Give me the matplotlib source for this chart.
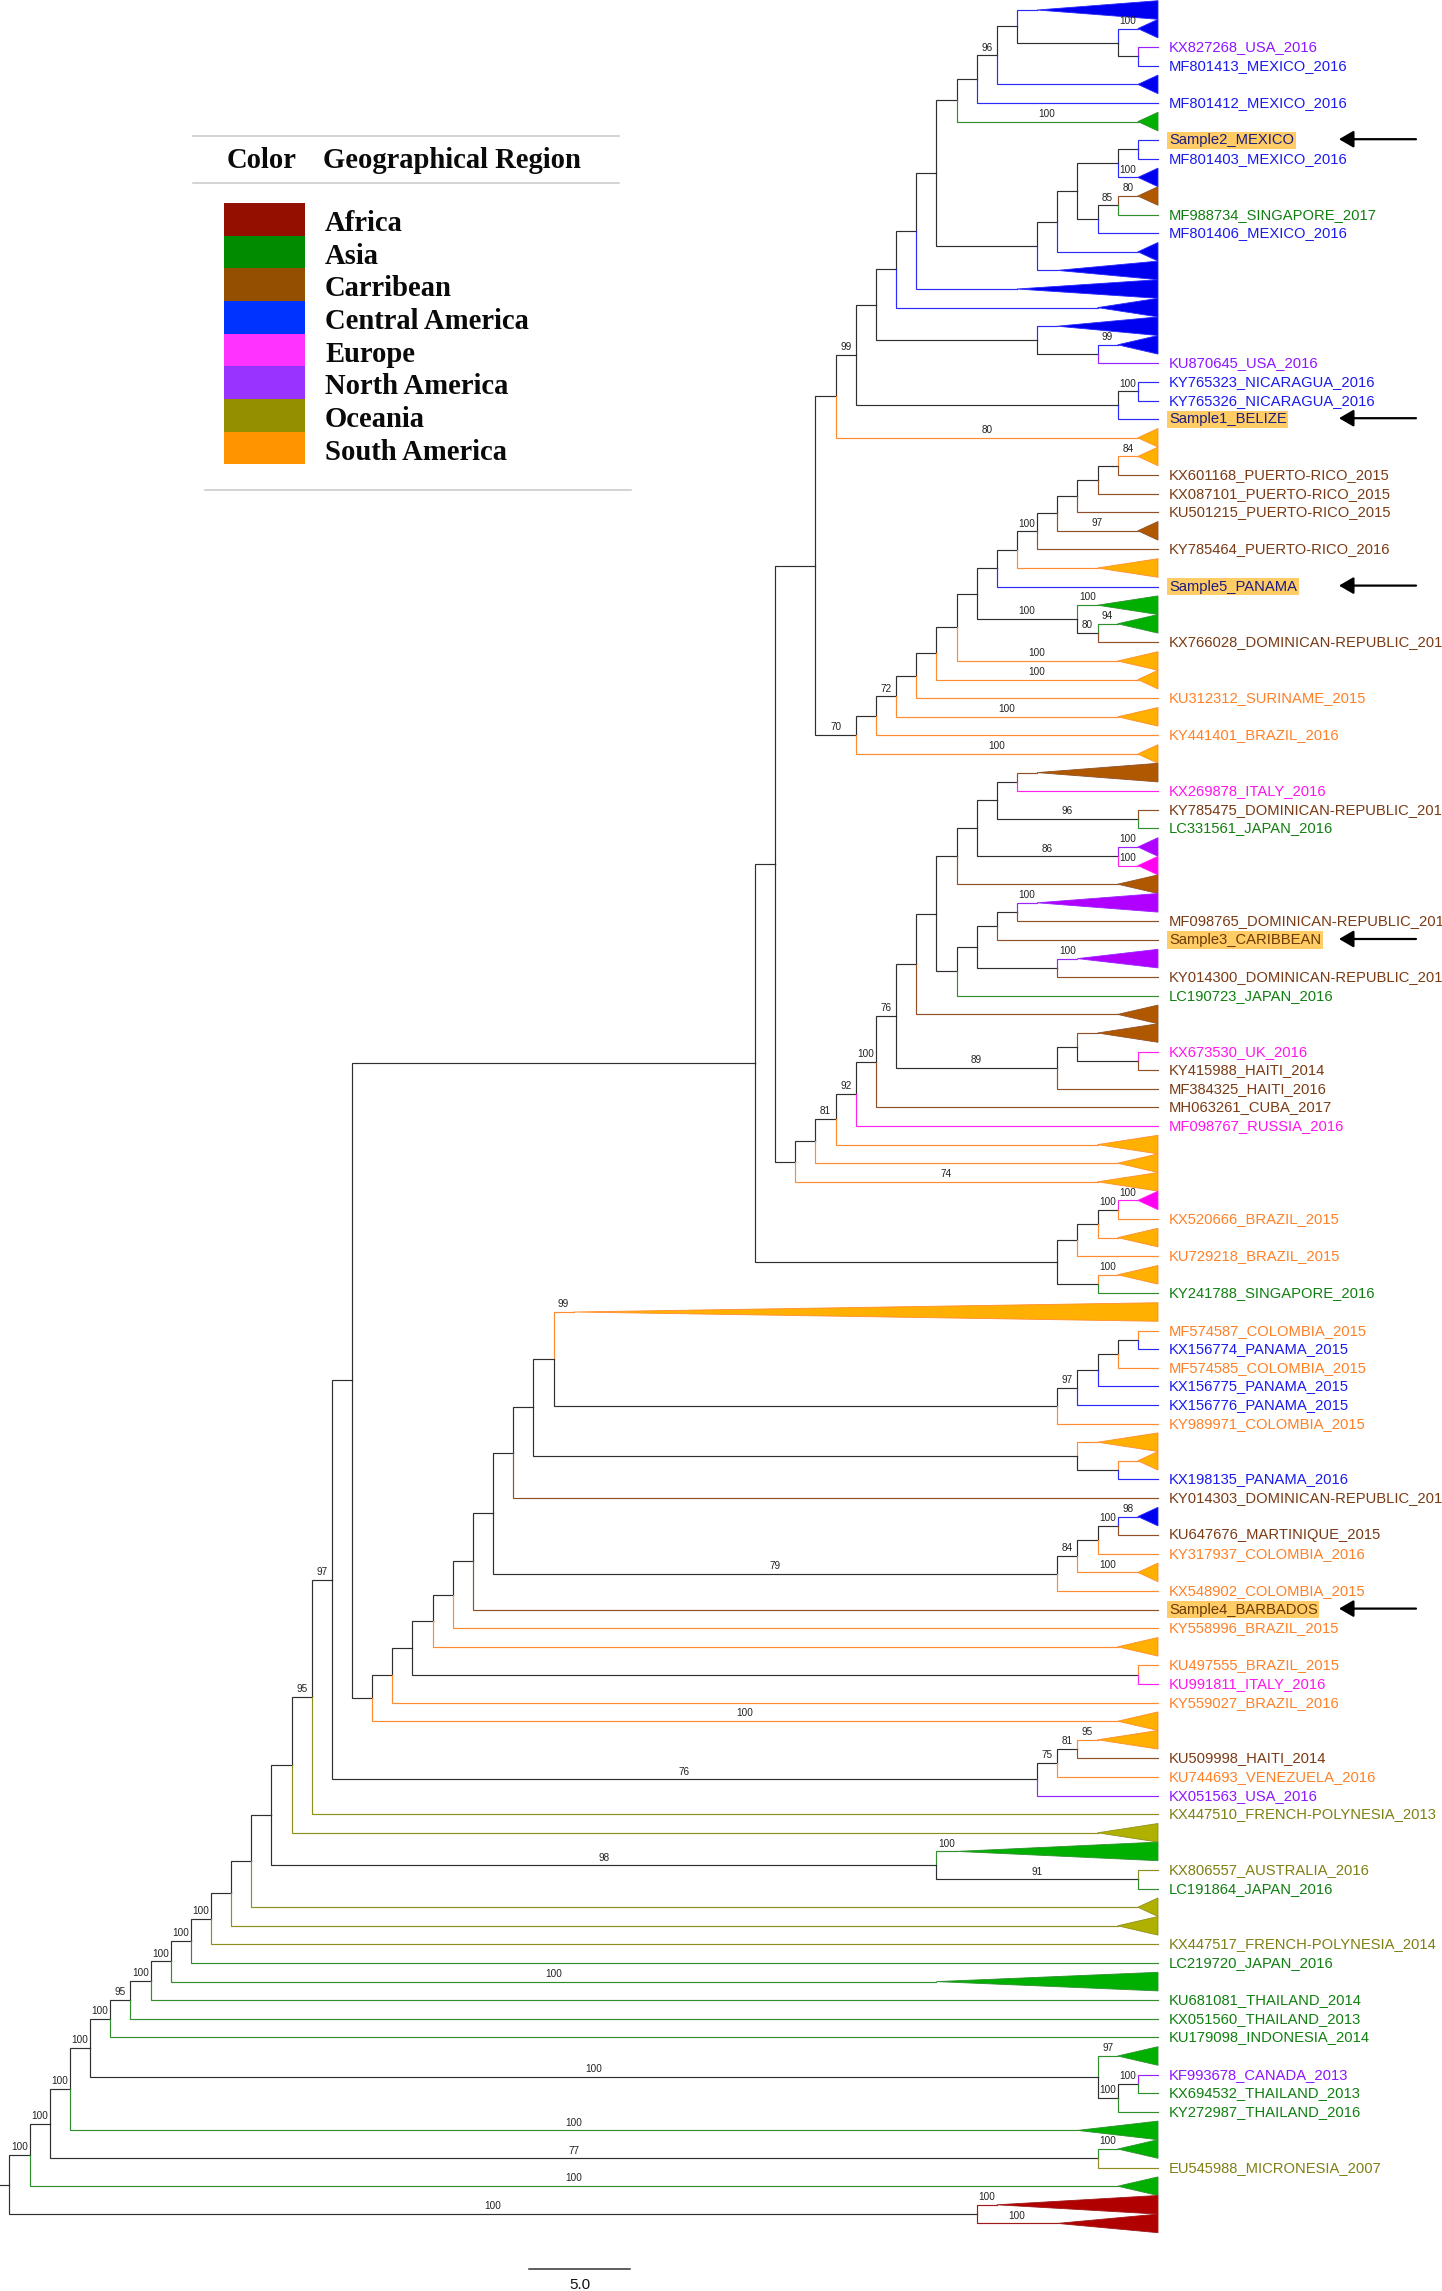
"""Zika virus phylogeny: cladogram with collapsed clades, coloured by region."""

import matplotlib

matplotlib.use("Agg")
import matplotlib.pyplot as plt
from matplotlib.patches import Polygon, Rectangle

# one entry per row of the tree, top to bottom; "" is a collapsed clade
tip_names = [
    "", "", "KX827268_USA_2016", "MF801413_MEXICO_2016", "", "MF801412_MEXICO_2016", "",
    "Sample2_MEXICO", "MF801403_MEXICO_2016", "", "", "MF988734_SINGAPORE_2017",
    "MF801406_MEXICO_2016", "", "", "", "", "", "", "KU870645_USA_2016",
    "KY765323_NICARAGUA_2016", "KY765326_NICARAGUA_2016", "Sample1_BELIZE", "", "",
    "KX601168_PUERTO-RICO_2015", "KX087101_PUERTO-RICO_2015", "KU501215_PUERTO-RICO_2015", "",
    "KY785464_PUERTO-RICO_2016", "", "Sample5_PANAMA", "", "",
    "KX766028_DOMINICAN-REPUBLIC_2016", "", "", "KU312312_SURINAME_2015", "",
    "KY441401_BRAZIL_2016", "", "", "KX269878_ITALY_2016",
    "KY785475_DOMINICAN-REPUBLIC_2016", "LC331561_JAPAN_2016", "", "", "", "",
    "MF098765_DOMINICAN-REPUBLIC_2016", "Sample3_CARIBBEAN", "",
    "KY014300_DOMINICAN-REPUBLIC_2016", "LC190723_JAPAN_2016", "", "", "KX673530_UK_2016",
    "KY415988_HAITI_2014", "MF384325_HAITI_2016", "MH063261_CUBA_2017", "MF098767_RUSSIA_2016",
    "", "", "", "", "KX520666_BRAZIL_2015", "", "KU729218_BRAZIL_2015", "",
    "KY241788_SINGAPORE_2016", "", "MF574587_COLOMBIA_2015", "KX156774_PANAMA_2015",
    "MF574585_COLOMBIA_2015", "KX156775_PANAMA_2015", "KX156776_PANAMA_2015",
    "KY989971_COLOMBIA_2015", "", "", "KX198135_PANAMA_2016",
    "KY014303_DOMINICAN-REPUBLIC_2016", "", "KU647676_MARTINIQUE_2015",
    "KY317937_COLOMBIA_2016", "", "KX548902_COLOMBIA_2015", "Sample4_BARBADOS",
    "KY558996_BRAZIL_2015", "", "KU497555_BRAZIL_2015", "KU991811_ITALY_2016",
    "KY559027_BRAZIL_2016", "", "", "KU509998_HAITI_2014", "KU744693_VENEZUELA_2016",
    "KX051563_USA_2016", "KX447510_FRENCH-POLYNESIA_2013", "", "", "KX806557_AUSTRALIA_2016",
    "LC191864_JAPAN_2016", "", "", "KX447517_FRENCH-POLYNESIA_2014", "LC219720_JAPAN_2016", "",
    "KU681081_THAILAND_2014", "KX051560_THAILAND_2013", "KU179098_INDONESIA_2014", "",
    "KF993678_CANADA_2013", "KX694532_THAILAND_2013", "KY272987_THAILAND_2016", "", "",
    "EU545988_MICRONESIA_2007", "", "", "",
]

tip_regions = """
CE CE NA CE CE CE AS CE CE CE
CB AS CE CE CE CE CE CE CE NA
CE CE CE SA SA CB CB CB CB CB
SA CE AS AS CB SA SA SA SA SA
SA CB EU CB AS NA EU CB NA CB
CB NA CB AS CB CB EU CB CB CB
EU SA SA SA EU SA SA SA SA AS
SA SA CE SA CE CE SA SA SA CE
CB CE CB SA SA SA CB SA SA SA
EU SA SA SA CB SA NA OC OC AS
OC AS OC OC OC AS AS AS AS AS
AS NA AS AS AS AS OC AS AF AF
""".split()

# rows that are collapsed clades, with the depth of the clade in tree steps
clade_depth = {
    0: 6, 1: 1, 4: 1, 6: 1, 9: 1, 10: 1, 13: 1, 14: 5, 15: 7, 16: 3, 17: 5, 18: 2,
    23: 1, 24: 1, 28: 1, 30: 3, 32: 3, 33: 2, 35: 2, 36: 1, 38: 2, 40: 1, 41: 6,
    45: 1, 46: 1, 47: 2, 48: 6, 51: 4, 54: 2, 55: 3, 61: 3, 62: 2, 63: 3, 64: 1,
    66: 2, 68: 2, 70: 29, 77: 3, 78: 1, 81: 1, 84: 1, 88: 2, 92: 2, 93: 3, 98: 3,
    99: 10, 102: 1, 103: 2, 106: 11, 110: 2, 114: 4, 115: 2, 117: 2, 118: 8, 119: 5,
}

# topology as newick-like pieces: row number, then optional :support
mexico_a = "((((0,(1:100,(2,3))),4):96,5),6:100)"
mexico_b = "(((((7,8),9:100),((10:80,11):85,12)),13),14)"
central = f"(((((({mexico_a},{mexico_b}),15),16),(17,(18:99,19))),((20,21):100,22)):99,23:80)"
puerto = "((((((((24:84,25),26),27),28:97),29):100,30),31)"
antilles = f"(((((({puerto},(32:100,(33:94,34):80):100),35:100),36:100),37),38:100):72,39),40:100)"
upper = f"({central},{antilles}:70)"
carib_a = "((((41,42),(43,44):96),(45:100,46:100):86),47)"
carib_b = "((((48:100,49),50),(51:100,52)),53)"
haiti_a = "(((55,(56,57)),58):89)"
carib = f"((((({carib_a},{carib_b}),54),((55,(56,57)),58):89):76,59):100,60):92"
lower_carib = f"((({carib},61):81,62),63:74)"
brazil = "((((64:100,65):100,66),67),(68:100,69))"
caribbean_side = f"(({upper},{lower_carib}),{brazil})"
colombia = "(((((71,72),73),74),75):97,76)"
panama = f"(((70:99,{colombia}),(77,(78,79))),80)"
martinique = "((((81:98,82):100,83),84:100):84,85)"
mid = f"(((((({panama},{martinique}:79),86),87),88),(89,90)),91)"
haiti_b = "(((93:95,94):81,95):75,96)"
core = f"((({caribbean_side},({mid},92:100)),{haiti_b}:76):97,97)"
pacific = f"((({core}:95,98),(99:100,(100,101):91):98),102)"
asia_a = f"((((((({pacific},103),104):100,105):100,106:100):100,107):100,108):95,109)"
asia_b = "(110:97,((111,112):100,113):100)"
africa = "(118:100,119:100)"
tree = f"((((({asia_a}:100,{asia_b}:100):100,114:100):100,(115:100,116):77):100,117:100):100,{africa}:100)"

arrow_rows = [7, 22, 31, 50, 86]

legend_regions = ["Africa", "Asia", "Carribean", "Central America", "Europe",
                  "North America", "Oceania", "South America"]
legend_colors = ["#931000", "#008c00", "#935000", "#0033ff", "#ff33ff", "#9933ff", "#939000", "#ff9300"]

fill_colors = {"AF": "#b00000", "AS": "#00b000", "CB": "#b05800", "CE": "#0000f0",
               "EU": "#ff00f0", "NA": "#b000ff", "OC": "#b0b000", "SA": "#ffb000"}
line_colors = {"AF": "#a01818", "AS": "#2f8f2f", "CB": "#8f5028", "CE": "#2a2aff",
               "EU": "#ff22f0", "NA": "#9a22ff", "OC": "#8f8f1e", "SA": "#ff8c30"}
text_colors = {"AF": "#900000", "AS": "#107f10", "CB": "#7a3a14", "CE": "#1a1aee",
               "EU": "#ff14ee", "NA": "#8f14ff", "OC": "#7f7f14", "SA": "#ff8026"}
sample_text = {"CE": "#1c1c80", "CB": "#6a3a08"}

WIDTH, HEIGHT = 1442, 2291
STEP_PX = 20.15      # one tree step
ROW_PX = 18.6
TIP_X_PX = 1158
FIRST_ROW_PX = 10
SERIF = "Liberation Serif"
SANS = "Liberation Sans"


def parse_tree(text):
    """Recursive newick-ish parser, returns nested dicts with depth and row position."""
    pos = 0

    def read_support():
        nonlocal pos
        if pos < len(text) and text[pos] == ":":
            end = pos + 1
            while text[end].isdigit():
                end += 1
            value = text[pos + 1:end]
            pos = end
            return value
        return None

    def read_node():
        nonlocal pos
        if text[pos] == "(":
            pos += 1
            kids = [read_node()]
            while text[pos] == ",":
                pos += 1
                kids.append(read_node())
            pos += 1  # closing bracket
            node = {
                "kids": kids,
                "depth": max(k["depth"] for k in kids) + 1,
                "row": sum(k["row"] for k in kids) / len(kids),
                "region": None,
            }
        else:
            end = pos
            while text[end].isdigit():
                end += 1
            row = int(text[pos:end])
            pos = end
            node = {"kids": [], "depth": clade_depth.get(row, 0), "row": row, "region": tip_regions[row]}
        node["support"] = read_support()
        return node

    return read_node()


def draw_node(ax, node):
    for kid in node["kids"]:
        color = line_colors[kid["region"]] if kid["region"] else "#2e2e2e"
        ax.plot([-node["depth"], -node["depth"], -kid["depth"]], [node["row"], kid["row"], kid["row"]],
                color=color, lw=0.85, solid_joinstyle="miter", zorder=2)
        if kid["support"]:
            ax.annotate(kid["support"], ((-node["depth"] - kid["depth"]) / 2, kid["row"]),
                        xytext=(0, 2), textcoords="offset points", ha="center", va="bottom",
                        fontsize=7.2, family=SANS, color="#222222", zorder=5)
        draw_node(ax, kid)


def draw_tips(ax):
    for row, name in enumerate(tip_names):
        region = tip_regions[row]
        if row in clade_depth:
            ax.add_patch(Polygon([(-clade_depth[row], row), (0, row - 0.5), (0, row + 0.5)],
                                 facecolor=fill_colors[region], edgecolor=line_colors[region],
                                 lw=0.6, zorder=3))
        elif name.startswith("Sample"):
            ax.annotate(name, (0, row), xytext=(8, 0), textcoords="offset points", va="center",
                        fontsize=10.6, family=SANS, color=sample_text[region],
                        bbox=dict(facecolor="#ffcc66", edgecolor="none", pad=1.2))
        else:
            ax.annotate(name, (0, row), xytext=(8, 0), textcoords="offset points", va="center",
                        fontsize=10.6, family=SANS, color=text_colors[region])


def draw_legend(ax):
    for y, x0, x1 in [(135.5, 193, 619), (182.5, 193, 619), (489.5, 205, 631)]:
        ax.plot([x0, x1], [y, y], color="#c8c8c8", lw=1.1)
    ax.text(227, 168, "Color", family=SERIF, weight="bold", fontsize=20.6, color="#0a0a0a")
    ax.text(323, 168, "Geographical Region", family=SERIF, weight="bold", fontsize=20.6, color="#0a0a0a")
    for i, (name, color) in enumerate(zip(legend_regions, legend_colors)):
        top = 203 + i * 32.65
        ax.add_patch(Rectangle((224, top), 81, 32.65, facecolor=color, edgecolor="none"))
        ax.text(325, top + 28, name, family=SERIF, weight="bold", fontsize=20.6, color="#0a0a0a")


def main():
    fig = plt.figure(figsize=(WIDTH / 100, HEIGHT / 100), dpi=100, facecolor="white")

    # tree axes: x in tree steps back from the tips, y in rows
    ax = fig.add_axes([0, 0, 1, 1])
    ax.set_xlim(-TIP_X_PX / STEP_PX, (WIDTH - TIP_X_PX) / STEP_PX)
    ax.set_ylim((HEIGHT - FIRST_ROW_PX) / ROW_PX, -FIRST_ROW_PX / ROW_PX)
    ax.axis("off")

    root = parse_tree(tree)
    draw_node(ax, root)
    draw_tips(ax)
    ax.plot([-root["depth"] - 0.65, -root["depth"]], [root["row"], root["row"]], color="#2e2e2e", lw=0.85)

    # layout axes in image pixels for legend, arrows and scale bar
    overlay = fig.add_axes([0, 0, 1, 1])
    overlay.set_xlim(0, WIDTH)
    overlay.set_ylim(HEIGHT, 0)
    overlay.axis("off")
    draw_legend(overlay)

    for row in arrow_rows:
        y = FIRST_ROW_PX + ROW_PX * row - 1
        overlay.annotate("", xy=(1339, y), xytext=(1416, y),
                         arrowprops=dict(arrowstyle="-|>,head_length=0.55,head_width=0.32", color="black",
                                         lw=1.6, shrinkA=0, shrinkB=0, mutation_scale=16))

    # scale bar is 5 tree steps long
    overlay.plot([529, 529 + 5 * STEP_PX], [2269, 2269], color="#333333", lw=1.1)
    overlay.text(579.5, 2285, "5.0", family=SANS, fontsize=11, ha="center", va="center", color="#111111")

    fig.savefig("out.png", dpi=100)
    plt.close(fig)


if __name__ == "__main__":
    main()
